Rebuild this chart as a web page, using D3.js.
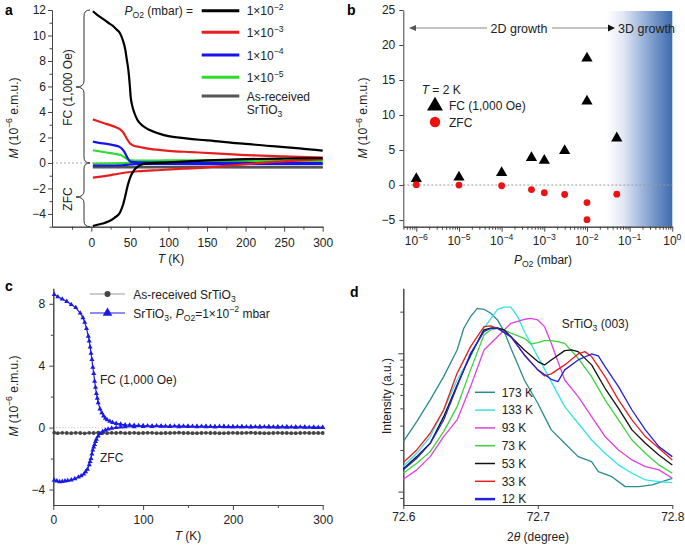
<!DOCTYPE html>
<html><head><meta charset="utf-8">
<script src="https://cdn.jsdelivr.net/npm/d3@7"></script>
<style>
body{margin:0;background:#fff;}
svg{font-family:"Liberation Sans",Arial,Helvetica,sans-serif;}
</style></head><body>
<svg id="c" width="685" height="546"></svg>
<script>
// ---------------- DATA ----------------
// Panel a: M vs T for films grown at different P_O2 (FC and ZFC)
const a_e2_FC = [[2,11.9],[8,11.6],[15,11.3],[22,11.0],[28,10.75],[33,10.45],[37,10.2],[41,9.6],[44,8.9],[46,8.1],[48,7.3],[50,6.0],[51,5.2],[53,4.5],[56,3.9],[60,3.35],[67,2.9],[75,2.6],[88,2.3],[100,2.1],[120,1.95],[140,1.82],[160,1.72],[183,1.58],[200,1.5],[227,1.35],[250,1.25],[270,1.15],[300,0.97]];
const a_e2_ZFC = [[2,-4.95],[8,-4.85],[15,-4.75],[22,-4.6],[30,-4.3],[37,-3.9],[41,-3.3],[44,-2.6],[47,-1.8],[50,-1.2],[54,-0.7],[58,-0.4],[63,-0.18],[70,-0.05],[100,0.05],[150,0.2],[200,0.3],[250,0.35],[300,0.38]];
const a_e3_FC = [[2,3.42],[10,3.25],[20,3.05],[30,2.85],[37,2.65],[42,2.35],[46,1.9],[50,1.55],[55,1.35],[63,1.25],[76,1.1],[100,0.95],[130,0.85],[160,0.75],[200,0.62],[230,0.55],[260,0.5],[300,0.42]];
const a_e3_ZFC = [[2,-1.15],[15,-1.05],[30,-0.9],[45,-0.75],[60,-0.65],[90,-0.55],[120,-0.45],[150,-0.35],[180,-0.2],[210,-0.05],[240,0.1],[270,0.2],[300,0.3]];
const a_e4_FC = [[2,1.67],[10,1.58],[20,1.5],[30,1.38],[36,1.28],[40,1.1],[43,0.85],[46,0.5],[49,0.2],[52,0.08],[60,0.05],[100,0.03],[200,0.0],[300,-0.02]];
const a_e4_ZFC = [[2,-0.2],[20,-0.2],[40,-0.18],[50,-0.12],[60,-0.08],[100,-0.08],[200,-0.1],[300,-0.1]];
const a_e5_FC = [[2,1.0],[10,0.92],[20,0.82],[30,0.72],[38,0.62],[43,0.45],[47,0.3],[52,0.2],[60,0.18],[100,0.2],[200,0.22],[300,0.25]];
const a_e5_ZFC = [[2,-0.05],[30,-0.03],[50,0.0],[100,0.05],[200,0.1],[300,0.15]];
const a_raw_FC = [[2,-0.3],[100,-0.3],[200,-0.32],[300,-0.33]];
const a_raw_ZFC = [[2,-0.35],[100,-0.35],[200,-0.35],[300,-0.35]];
const aLegendLabels = ["−2","−3","−4","−5"];
const aXTicks = [0,50,100,150,200,250,300];
const aXMinor = [-25,25,75,125,175,225,275];
const aYTicks = [-4,-2,0,2,4,6,8,10,12];
const aYMinor = [-5,-3,-1,1,3,5,7,9,11];

// Panel b: M at T = 2 K vs P_O2
const bP_FC = [1e-6,1e-5,1e-4,5e-4,1e-3,3e-3,1e-2,1e-2,5e-2];
const bM_FC = [0.9,1.1,1.75,3.9,3.5,4.9,18.1,11.95,6.7];
const bP_ZFC = [1e-6,1e-5,1e-4,5e-4,1e-3,3e-3,1e-2,1e-2,5e-2];
const bM_ZFC = [0.05,0.0,-0.1,-0.65,-1.1,-1.35,-2.5,-4.95,-1.3];
const bXTicks = [-6,-5,-4,-3,-2,-1,0];
const bYTicks = [-5,0,5,10,15,20,25];

// Panel c: as-received vs P_O2 = 1e-2 mbar
const c_FC = [[1,8.6],[5,8.45],[10,8.3],[15,8.15],[20,7.95],[25,7.75],[30,7.4],[33,7.1],[35,6.8],[37,6.4],[39,5.9],[40,5.6],[41,5.2],[42,4.8],[43,4.4],[44,3.9],[45,3.5],[46,3.0],[47,2.6],[48,2.2],[49,1.9],[50,1.6],[52,1.2],[54,0.95],[56,0.75],[58,0.6],[60,0.5],[63,0.4],[66,0.33],[70,0.27],[75,0.22],[80,0.18],[85,0.16],[90,0.15],[95,0.13],[100,0.12],[105,0.11],[110,0.1],[115,0.11],[120,0.1],[125,0.09],[130,0.08],[135,0.1],[140,0.1],[145,0.09],[150,0.08],[155,0.08],[160,0.07],[165,0.08],[170,0.08],[175,0.07],[180,0.06],[185,0.07],[190,0.07],[195,0.06],[200,0.05],[205,0.06],[210,0.06],[215,0.05],[220,0.05],[225,0.05],[230,0.04],[235,0.05],[240,0.05],[245,0.04],[250,0.03],[255,0.04],[260,0.04],[265,0.03],[270,0.02],[275,0.03],[280,0.03],[285,0.02],[290,0.01],[295,0.01],[300,0.0]];
const c_ZFC = [[1,-3.4],[4,-3.45],[7,-3.5],[10,-3.48],[13,-3.45],[16,-3.42],[20,-3.38],[24,-3.3],[28,-3.2],[31,-3.12],[34,-3.0],[36,-2.85],[38,-2.7],[40,-2.4],[41,-2.2],[42,-2.0],[43,-1.7],[44,-1.45],[45,-1.25],[46,-1.1],[47,-0.9],[48,-0.75],[50,-0.55],[52,-0.39],[55,-0.25],[58,-0.17],[61,-0.1],[65,-0.04],[70,0.0],[75,0.03],[80,0.05],[90,0.06],[100,0.07],[110,0.07],[120,0.08],[130,0.07],[140,0.06],[150,0.07],[160,0.06],[170,0.06],[180,0.05],[190,0.06],[200,0.05],[210,0.05],[220,0.04],[230,0.05],[240,0.04],[250,0.04],[260,0.03],[270,0.03],[280,0.02],[290,0.02],[300,0.01]];
const c_raw = [[1,-0.33],[5,-0.36],[10,-0.34],[15,-0.35],[20,-0.36],[25,-0.34],[30,-0.35],[35,-0.37],[40,-0.34],[45,-0.35],[50,-0.33],[55,-0.35],[60,-0.36],[65,-0.34],[70,-0.35],[75,-0.33],[80,-0.36],[85,-0.35],[90,-0.34],[95,-0.36],[100,-0.35],[105,-0.34],[110,-0.34],[115,-0.36],[120,-0.36],[125,-0.35],[130,-0.35],[135,-0.34],[140,-0.33],[145,-0.35],[150,-0.35],[155,-0.36],[160,-0.36],[165,-0.35],[170,-0.34],[175,-0.35],[180,-0.35],[185,-0.36],[190,-0.36],[195,-0.35],[200,-0.34],[205,-0.35],[210,-0.35],[215,-0.34],[220,-0.33],[225,-0.35],[230,-0.35],[235,-0.36],[240,-0.36],[245,-0.35],[250,-0.34],[255,-0.35],[260,-0.35],[265,-0.36],[270,-0.36],[275,-0.35],[280,-0.34],[285,-0.35],[290,-0.35],[295,-0.35],[300,-0.35]];
const cXTicks = [0,100,200,300];
const cXMinor = [50,150,250];
const cYTicks = [-4,0,4,8];
const cYMinor = [-2,2,6];

// Panel d: XRD SrTiO3 (003) peak, log10 intensity (a.u.) vs 2theta
const d173 = [[72.60,0.361],[72.61,0.506],[72.62,0.663],[72.63,0.831],[72.64,1.024],[72.645,1.181],[72.65,1.265],[72.655,1.325],[72.66,1.318],[72.665,1.289],[72.67,1.241],[72.675,1.157],[72.68,1.036],[72.69,0.807],[72.70,0.639],[72.705,0.542],[72.71,0.446],[72.72,0.349],[72.73,0.253],[72.74,0.217],[72.745,0.145],[72.755,0.108],[72.765,0.036],[72.775,0.036],[72.785,0.048],[72.80,0.096]];
const d133 = [[72.60,0.181],[72.61,0.277],[72.62,0.398],[72.63,0.590],[72.64,0.807],[72.65,0.976],[72.66,1.181],[72.67,1.318],[72.675,1.333],[72.68,1.333],[72.685,1.265],[72.69,1.157],[72.70,0.976],[72.71,0.795],[72.72,0.614],[72.73,0.494],[72.74,0.373],[72.75,0.277],[72.76,0.193],[72.77,0.133],[72.78,0.084],[72.79,0.072],[72.80,0.065]];
const d93 = [[72.60,0.089],[72.61,0.157],[72.62,0.253],[72.63,0.398],[72.64,0.518],[72.65,0.759],[72.66,1.024],[72.67,1.120],[72.68,1.217],[72.69,1.246],[72.695,1.253],[72.70,1.241],[72.705,1.193],[72.71,1.072],[72.72,0.807],[72.73,0.687],[72.74,0.542],[72.75,0.398],[72.76,0.301],[72.77,0.229],[72.78,0.181],[72.79,0.157],[72.80,0.096]];
const d73 = [[72.60,0.133],[72.61,0.205],[72.62,0.289],[72.63,0.434],[72.64,0.614],[72.65,0.880],[72.66,1.133],[72.665,1.169],[72.67,1.181],[72.675,1.169],[72.68,1.145],[72.69,1.108],[72.695,1.067],[72.70,1.077],[72.705,1.092],[72.71,1.092],[72.715,1.084],[72.72,1.072],[72.73,0.964],[72.74,0.831],[72.75,0.663],[72.76,0.518],[72.77,0.373],[72.78,0.277],[72.79,0.193],[72.80,0.133]];
const d53 = [[72.60,0.164],[72.61,0.253],[72.62,0.349],[72.63,0.542],[72.64,0.771],[72.65,0.988],[72.66,1.169],[72.665,1.181],[72.67,1.183],[72.675,1.169],[72.68,1.120],[72.69,1.024],[72.70,0.940],[72.705,0.916],[72.71,0.952],[72.72,1.019],[72.725,1.024],[72.73,1.012],[72.74,0.916],[72.75,0.747],[72.76,0.602],[72.77,0.446],[72.78,0.349],[72.79,0.265],[72.80,0.193]];
const d33 = [[72.60,0.210],[72.61,0.301],[72.62,0.422],[72.63,0.590],[72.64,0.855],[72.65,1.048],[72.66,1.193],[72.665,1.198],[72.67,1.181],[72.68,1.120],[72.69,0.988],[72.70,0.880],[72.705,0.836],[72.71,0.851],[72.72,0.916],[72.73,0.995],[72.735,1.012],[72.74,0.976],[72.75,0.831],[72.76,0.663],[72.77,0.518],[72.78,0.398],[72.79,0.313],[72.80,0.229]];
const d12 = [[72.60,0.157],[72.61,0.241],[72.62,0.349],[72.63,0.518],[72.64,0.759],[72.65,1.000],[72.66,1.157],[72.665,1.181],[72.67,1.181],[72.68,1.120],[72.69,0.988],[72.70,0.880],[72.71,0.812],[72.715,0.795],[72.72,0.880],[72.73,0.952],[72.74,0.995],[72.745,0.981],[72.75,0.904],[72.76,0.759],[72.77,0.590],[72.78,0.446],[72.79,0.325],[72.80,0.253]];
const dLabels = ["173 K","133 K","93 K","73 K","53 K","33 K","12 K"];
const dXTicks = [72.6,72.7,72.8];
const dYMajor = [1,10];
const dYMinor = [0.9,2,3,4,5,6,7,8,9,20];

// ---------------- DRAWING ----------------
const FF = '"Liberation Sans", Arial, Helvetica, sans-serif';
const svg = d3.select('#c');
svg.append('rect').attr('width',685).attr('height',546).attr('fill','#fff');
const TXT = '#222', AX = '#444';

function rich(g, x, y, segs, o = {}) {
  const fs = o.size || 12;
  const t = g.append('text').attr('x', x).attr('y', y).attr('font-size', fs)
    .attr('text-anchor', o.anchor || 'start').attr('fill', o.fill || TXT).attr('font-family', FF);
  if (o.weight) t.attr('font-weight', o.weight);
  if (o.rotate) t.attr('transform', `rotate(${o.rotate},${x},${y})`);
  let shift = 0;
  segs.forEach(s => {
    const [str, k] = Array.isArray(s) ? s : [s, ''];
    const sp = t.append('tspan').text(str);
    let target = 0;
    if (k.includes('sup')) { target = -fs * 0.42; sp.attr('font-size', fs * 0.72); }
    if (k.includes('sub')) { target = fs * 0.28; sp.attr('font-size', fs * 0.72); }
    if (k.includes('it')) sp.attr('font-style', 'italic');
    if (target - shift !== 0) sp.attr('dy', target - shift);
    shift = target;
  });
  return t;
}
function styleAxis(g, fs = 12) {
  g.attr('font-family', FF).attr('font-size', fs);
  g.selectAll('path,line').attr('stroke', AX).attr('stroke-width', 1);
  g.selectAll('text').attr('fill', TXT);
}
const fmtMinus = d => d < 0 ? '−' + Math.abs(d) : String(d);

// ===== Panel a =====
const aX = d3.scaleLinear().domain([-51, 300]).range([52, 322.7]);
const aY = d3.scaleLinear().domain([-5, 12]).range([226.7, 10]);
const gA = svg.append('g');
gA.append('line').attr('x1', aX(-51)).attr('x2', aX(300)).attr('y1', aY(0)).attr('y2', aY(0))
  .attr('stroke', '#aaa').attr('stroke-dasharray', '2,2');
gA.append('g').attr('transform', `translate(0,${aY(-5)})`)
  .call(d3.axisBottom(aX).tickValues(aXTicks).tickSize(5).tickSizeOuter(0).tickPadding(7)).call(styleAxis);
gA.append('g').attr('transform', `translate(0,${aY(-5)})`)
  .call(d3.axisBottom(aX).tickValues(aXMinor).tickSize(3).tickSizeOuter(0).tickFormat('')).call(styleAxis);
gA.append('g').attr('transform', `translate(${aX(-51)},0)`)
  .call(d3.axisLeft(aY).tickValues(aYTicks).tickSize(4).tickSizeOuter(0).tickPadding(2).tickFormat(fmtMinus)).call(styleAxis);
gA.append('g').attr('transform', `translate(${aX(-51)},0)`)
  .call(d3.axisLeft(aY).tickValues(aYMinor).tickSize(2.5).tickSizeOuter(0).tickFormat('')).call(styleAxis);

const aLine = d3.line().x(d => aX(d[0])).y(d => aY(d[1])).curve(d3.curveMonotoneX);
const aSeries = [
  [a_raw_FC, '#555'], [a_raw_ZFC, '#555'],
  [a_e5_ZFC, '#2bdc2b'], [a_e5_FC, '#2bdc2b'],
  [a_e4_ZFC, '#1515e8'], [a_e4_FC, '#1515e8'],
  [a_e3_ZFC, '#e61e1e'], [a_e3_FC, '#e61e1e'],
  [a_e2_ZFC, '#000'], [a_e2_FC, '#000']
];
aSeries.forEach(([d, c]) => gA.append('path').datum(d).attr('d', aLine)
  .attr('fill', 'none').attr('stroke', c).attr('stroke-width', 2.2).attr('stroke-linejoin', 'round'));

// braces
function brace(g, x, y1, y2, ym, depth) {
  const r = 6;
  const p = `M${x},${y1} q${-r},0 ${-r},${r} L${x - r},${ym - r} q0,${r} ${-(depth - r)},${r} q${depth - r},0 ${depth - r},${r} L${x - r},${y2 - r} q0,${r} ${r},${r}`;
  g.append('path').attr('d', p).attr('fill', 'none').attr('stroke', '#333').attr('stroke-width', 1);
}
brace(gA, 90, aY(12), aY(0), 87, 14);
brace(gA, 90, aY(0), aY(-5), 197, 14);
rich(gA, 72, 87.5, ['FC (1,000 Oe)'], { anchor: 'middle', rotate: -90 });
rich(gA, 72, 199, ['ZFC'], { anchor: 'middle', rotate: -90 });
rich(gA, 17.5, 118, [['M', 'it'], ' (10', ['−6', 'sup'], ' e.m.u.)'], { anchor: 'middle', rotate: -90 });
rich(gA, 171, 263, [['T', 'it'], ' (K)'], { anchor: 'middle' });
rich(gA, 5, 15, ['a'], { size: 14, weight: 'bold', fill: '#000' });

// legend a
rich(gA, 193, 15, [['P', 'it'], ['O2', 'sub'], ' (mbar) ='], { anchor: 'end' });
const legA = [['#000', 10.7], ['#e61e1e', 32.3], ['#1515e8', 55], ['#2bdc2b', 77.3], ['#555', 96]];
legA.forEach(([c, y], i) => {
  gA.append('line').attr('x1', 201.7).attr('x2', 239.3).attr('y1', y).attr('y2', y)
    .attr('stroke', c).attr('stroke-width', 3);
  if (i < 4) rich(gA, 246.7, y + 4.5, ['1×10', [aLegendLabels[i], 'sup']]);
});
rich(gA, 246.7, 100.5, ['As-received']);
rich(gA, 246.7, 114, ['SrTiO', ['3', 'sub']]);

// ===== Panel b =====
const bX = d3.scaleLog().domain([Math.pow(10, -6.305), 1]).range([403.3, 672.3]);
const bY = d3.scaleLinear().domain([-5.95, 25]).range([226.7, 10]);
const gB = svg.append('g');
const defs = svg.append('defs');
const grad = defs.append('linearGradient').attr('id', 'gb').attr('x1', 0).attr('x2', 1).attr('y1', 0).attr('y2', 0);
[[0, '#ffffff'], [0.25, '#e3e9f4'], [0.5, '#a9bedf'], [0.75, '#7093c6'], [1, '#3e6cb0']].forEach(([o, c]) =>
  grad.append('stop').attr('offset', o).attr('stop-color', c));
gB.append('rect').attr('x', bX(Math.pow(10, -1.55))).attr('y', 11).attr('width', bX(1) - bX(Math.pow(10, -1.55)))
  .attr('height', bY(-5.95) - 11).attr('fill', 'url(#gb)');
gB.append('line').attr('x1', bX.range()[0]).attr('x2', bX.range()[1]).attr('y1', bY(0)).attr('y2', bY(0))
  .attr('stroke', '#999').attr('stroke-dasharray', '2,2');
gB.append('g').attr('transform', `translate(0,${bY(-5.95)})`)
  .call(d3.axisBottom(bX).tickValues(bXTicks.map(e => Math.pow(10, e))).tickSize(5).tickSizeOuter(0).tickFormat('')).call(styleAxis);
const bMinor = [];
for (let e = -7; e < 0; e++) for (let k = 2; k <= 9; k++) { const v = k * Math.pow(10, e); if (v >= bX.domain()[0] && v <= 1) bMinor.push(v); }
gB.append('g').attr('transform', `translate(0,${bY(-5.95)})`)
  .call(d3.axisBottom(bX).tickValues(bMinor).tickSize(3).tickSizeOuter(0).tickFormat('')).call(styleAxis);
bXTicks.forEach(e => rich(gB, bX(Math.pow(10, e)), 245, ['10', [fmtMinus(e), 'sup']], { anchor: 'middle' }));
gB.append('g').attr('transform', `translate(${bX.range()[0]},0)`)
  .call(d3.axisLeft(bY).tickValues(bYTicks).tickSize(4).tickSizeOuter(0).tickPadding(4).tickFormat(fmtMinus)).call(styleAxis);
// growth arrows
gB.append('line').attr('x1', 412).attr('x2', 487).attr('y1', 28).attr('y2', 28).attr('stroke', '#888');
gB.append('line').attr('x1', 552).attr('x2', 609).attr('y1', 28).attr('y2', 28).attr('stroke', '#888');
gB.append('path').attr('d', 'M409,28 l7,-3 l0,6 z').attr('fill', '#555');
gB.append('path').attr('d', 'M615,28 l-7,-3.5 l0,7 z').attr('fill', '#111');
rich(gB, 519, 32.5, ['2D growth'], { anchor: 'middle', size: 12.5 });
rich(gB, 618, 32.5, ['3D growth'], { size: 12.5 });
// points
const tri = d3.symbol().type(d3.symbolTriangle);
bP_FC.forEach((p, i) => gB.append('path').attr('d', tri.size(55)()).attr('fill', '#000')
  .attr('transform', `translate(${bX(p)},${bY(bM_FC[i])})`));
bP_ZFC.forEach((p, i) => gB.append('circle').attr('cx', bX(p)).attr('cy', bY(bM_ZFC[i])).attr('r', 3.4).attr('fill', '#ee1111'));
// legend b
rich(gB, 421.7, 94, [['T', 'it'], ' = 2 K']);
gB.append('path').attr('d', tri.size(110)()).attr('fill', '#000').attr('transform', 'translate(435,106)');
rich(gB, 449, 110, ['FC (1,000 Oe)']);
gB.append('circle').attr('cx', 435).attr('cy', 122).attr('r', 5.2).attr('fill', '#ee1111');
rich(gB, 449, 126.5, ['ZFC']);
rich(gB, 367, 118, [['M', 'it'], ' (10', ['−6', 'sup'], ' e.m.u.)'], { anchor: 'middle', rotate: -90 });
rich(gB, 543, 264, [['P', 'it'], ['O2', 'sub'], ' (mbar)'], { anchor: 'middle' });
rich(gB, 347, 15, ['b'], { size: 14, weight: 'bold', fill: '#000' });

// ===== Panel c =====
const cX = d3.scaleLinear().domain([0, 300]).range([53.3, 322.7]);
const cY = d3.scaleLinear().domain([-5, 9]).range([505, 288.3]);
const gC = svg.append('g');
gC.append('line').attr('x1', cX(0)).attr('x2', cX(300)).attr('y1', cY(0)).attr('y2', cY(0))
  .attr('stroke', '#bbb').attr('stroke-dasharray', '1,2');
gC.append('g').attr('transform', `translate(0,${cY(-5)})`)
  .call(d3.axisBottom(cX).tickValues(cXTicks).tickSize(5).tickSizeOuter(0).tickPadding(5)).call(styleAxis);
gC.append('g').attr('transform', `translate(0,${cY(-5)})`)
  .call(d3.axisBottom(cX).tickValues(cXMinor).tickSize(3).tickSizeOuter(0).tickFormat('')).call(styleAxis);
gC.append('g').attr('transform', `translate(${cX(0)},0)`)
  .call(d3.axisLeft(cY).tickValues(cYTicks).tickSize(4).tickSizeOuter(0).tickPadding(4).tickFormat(fmtMinus)).call(styleAxis);
gC.append('g').attr('transform', `translate(${cX(0)},0)`)
  .call(d3.axisLeft(cY).tickValues(cYMinor).tickSize(2.5).tickSizeOuter(0).tickFormat('')).call(styleAxis);
const cLine = d3.line().x(d => cX(d[0])).y(d => cY(d[1]));
gC.append('path').datum(c_raw).attr('d', cLine).attr('fill', 'none').attr('stroke', '#555').attr('stroke-width', 1.2);
c_raw.forEach(d => gC.append('circle').attr('cx', cX(d[0])).attr('cy', cY(d[1])).attr('r', 1.9).attr('fill', '#444'));
[c_FC, c_ZFC].forEach(s => {
  gC.append('path').datum(s).attr('d', cLine).attr('fill', 'none').attr('stroke', '#1a1ae6').attr('stroke-width', 1.2);
  s.forEach(d => gC.append('path').attr('d', tri.size(11)()).attr('fill', '#1a1ae6')
    .attr('transform', `translate(${cX(d[0])},${cY(d[1])})`));
});
// legend c
gC.append('line').attr('x1', 90).attr('x2', 125).attr('y1', 294).attr('y2', 294).attr('stroke', '#999').attr('stroke-width', 1);
gC.append('circle').attr('cx', 107.5).attr('cy', 294).attr('r', 3).attr('fill', '#444');
rich(gC, 133.3, 298.5, ['As-received SrTiO', ['3', 'sub']]);
gC.append('line').attr('x1', 90).attr('x2', 125).attr('y1', 313).attr('y2', 313).attr('stroke', '#1a1ae6').attr('stroke-width', 1.2);
gC.append('path').attr('d', tri.size(40)()).attr('fill', '#1a1ae6').attr('transform', 'translate(107.5,313)');
rich(gC, 133.3, 317.5, ['SrTiO', ['3', 'sub'], ', ', ['P', 'it'], ['O2', 'sub'], '=1×10', ['−2', 'sup'], ' mbar']);
rich(gC, 100, 384, ['FC (1,000 Oe)']);
rich(gC, 100, 462, ['ZFC']);
rich(gC, 17.5, 396, [['M', 'it'], ' (10', ['−6', 'sup'], ' e.m.u.)'], { anchor: 'middle', rotate: -90 });
rich(gC, 188, 540, [['T', 'it'], ' (K)'], { anchor: 'middle' });
rich(gC, 5, 291, ['c'], { size: 14, weight: 'bold', fill: '#000' });

// ===== Panel d =====
const dX = d3.scaleLinear().domain([72.6, 72.8]).range([403.3, 672.3]);
const dY = d3.scaleLog().domain([0.8, 29.5]).range([505, 288.3]);
const gD = svg.append('g');
gD.append('g').attr('transform', `translate(0,${dY(0.8)})`)
  .call(d3.axisBottom(dX).tickValues(dXTicks).tickSize(4).tickSizeOuter(0).tickPadding(3).tickFormat(d3.format('.1f'))).call(styleAxis);
gD.append('g').attr('transform', `translate(${dX(72.6)},0)`)
  .call(d3.axisLeft(dY).tickValues(dYMajor).tickSize(5).tickSizeOuter(0).tickFormat('')).call(styleAxis);
gD.append('g').attr('transform', `translate(${dX(72.6)},0)`)
  .call(d3.axisLeft(dY).tickValues(dYMinor).tickSize(3).tickSizeOuter(0).tickFormat('')).call(styleAxis);
const dLine = d3.line().x(d => dX(d[0])).y(d => dY(Math.pow(10, d[1])));
const dSeries = [[d173, '#2a8c8a'], [d133, '#35e3ea'], [d93, '#e040e0'], [d73, '#3ed23e'], [d53, '#111'], [d33, '#e62020'], [d12, '#2222dd']];
dSeries.forEach(([s, c]) => gD.append('path').datum(s).attr('d', dLine).attr('fill', 'none')
  .attr('stroke', c).attr('stroke-width', 1.3).attr('stroke-linejoin', 'round'));
dSeries.forEach(([s, c], i) => {
  const y = 392.3 + i * 17.8;
  gD.append('line').attr('x1', 475).attr('x2', 495).attr('y1', y).attr('y2', y).attr('stroke', c)
    .attr('stroke-width', i === 6 ? 2.5 : 1.5);
  rich(gD, 501.7, y + 4.3, [dLabels[i]]);
});
rich(gD, 561.7, 327.5, ['SrTiO', ['3', 'sub'], '  (003)']);
rich(gD, 391, 396, ['Intensity (a.u.)'], { anchor: 'middle', rotate: -90 });
rich(gD, 538, 541, ['2', ['θ', 'it'], ' (degree)'], { anchor: 'middle' });
rich(gD, 350, 297, ['d'], { size: 14, weight: 'bold', fill: '#000' });
</script>
</body></html>
